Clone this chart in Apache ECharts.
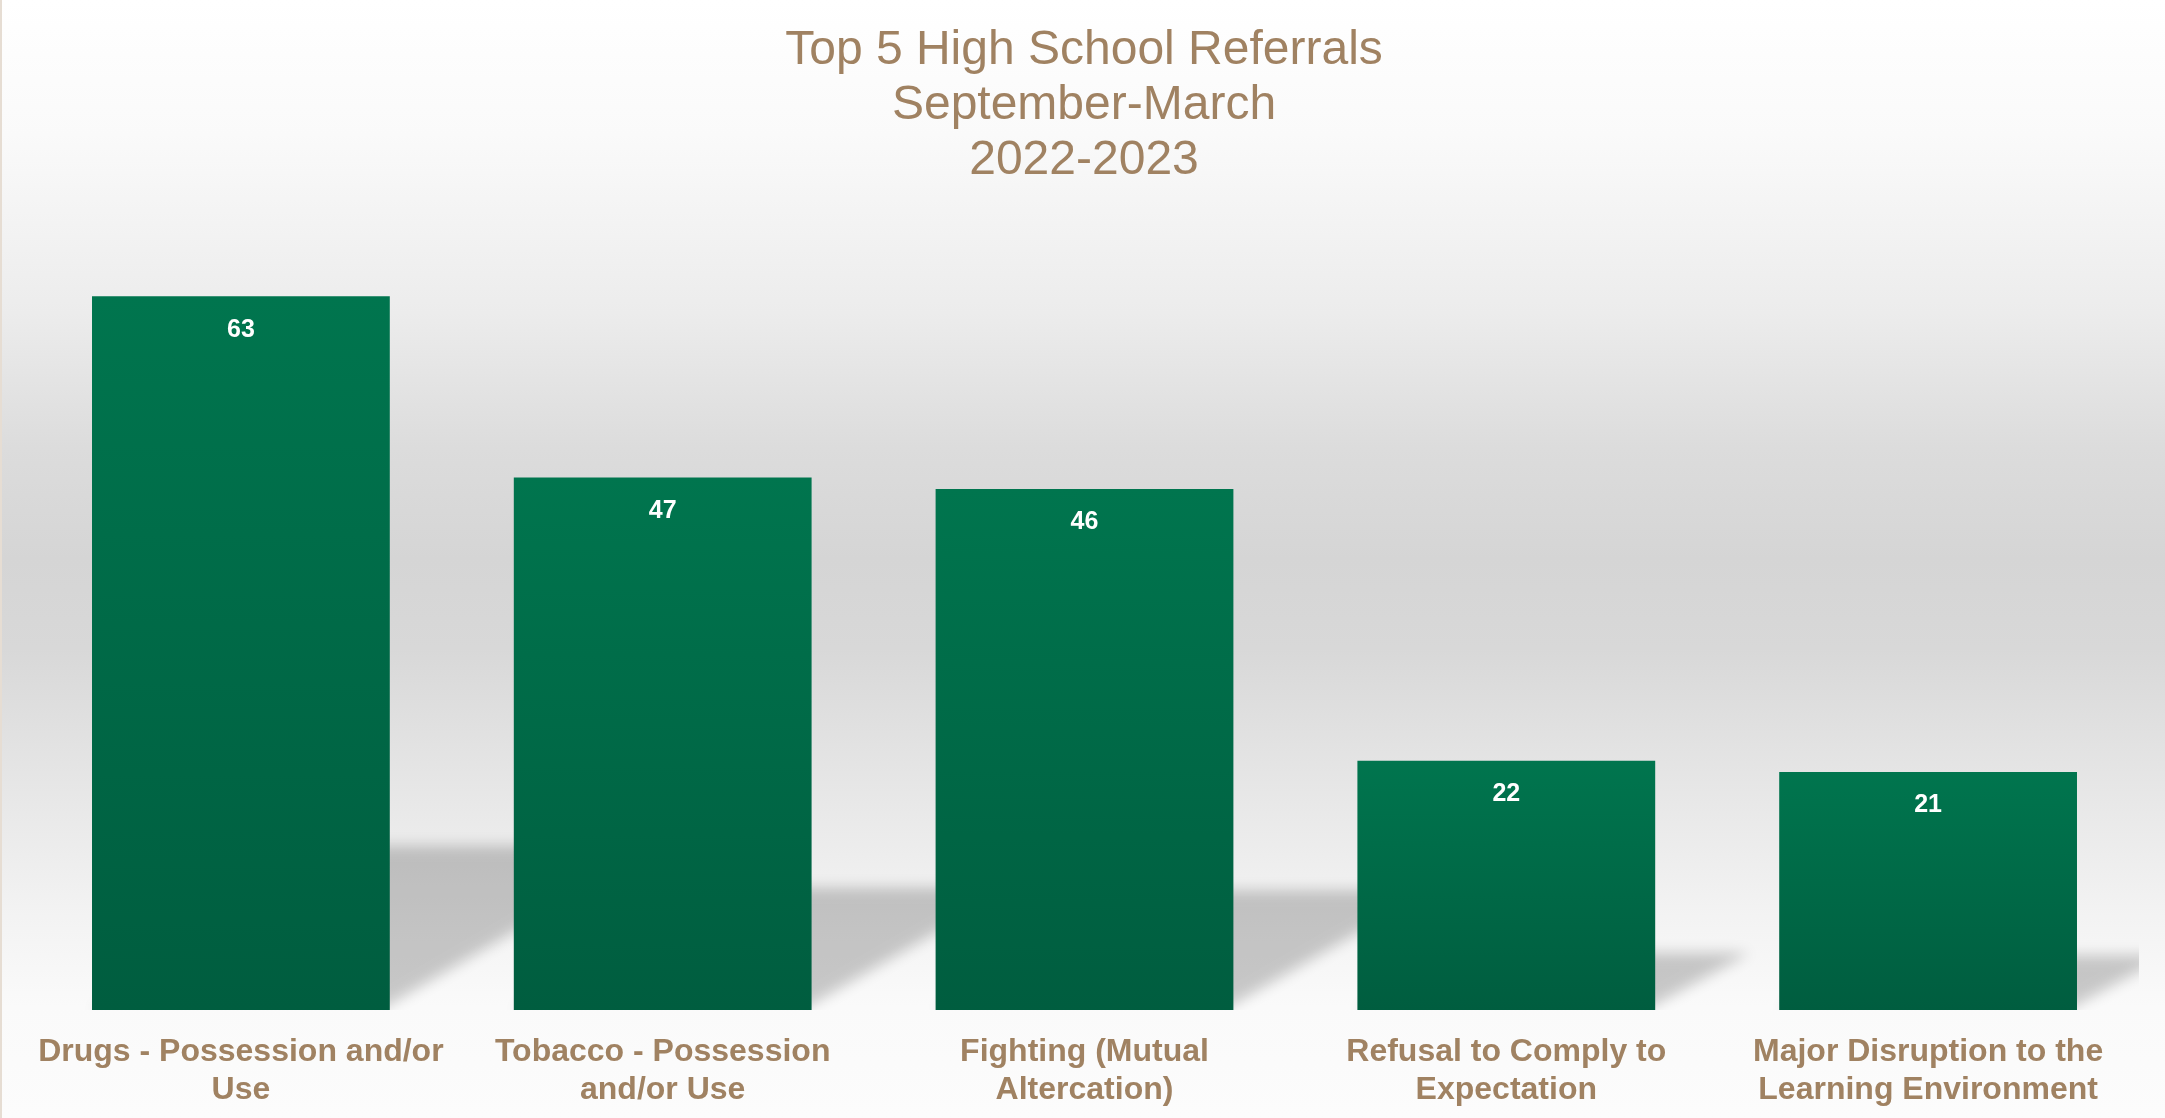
<!DOCTYPE html>
<html>
<head>
<meta charset="utf-8">
<title>Top 5 High School Referrals</title>
<script src="https://cdn.jsdelivr.net/npm/echarts@6/dist/echarts.min.js"></script>
<style>
  html, body { margin: 0; padding: 0; }
  #chart {
    width: 2165px;
    height: 1118px;
    background: linear-gradient(to bottom,
      #ffffff 0%, #fafafa 12%, #ececec 28%, #dcdcdc 40%, #d5d5d5 50%,
      #d8d8d8 58%, #e6e6e6 70%, #f3f3f3 82%, #fafafa 90%, #fcfcfc 100%);
    box-shadow: inset 2px 0 0 #e6ddd3;
  }
</style>
</head>
<body>
<div id="chart"></div>
<script>
// Referral categories (two-line axis labels) and counts, September–March 2022-2023
const categories = [
  'Drugs - Possession and/or\nUse',
  'Tobacco - Possession\nand/or Use',
  'Fighting (Mutual\nAltercation)',
  'Refusal to Comply to\nExpectation',
  'Major Disruption to the\nLearning Environment'
];
const referrals = [63, 47, 46, 22, 21];
const titleLines = ['Top 5 High School Referrals', 'September-March', '2022-2023'];

const TAN = '#a08262';
const BAR_SHARE = 0.706;      // bar width as a share of the category band
const SHADOW_RATIO = 0.23;    // cast shadow height relative to bar height
const SHADOW_SLANT = 1.65;    // horizontal run of the shadow per pixel of height
const OFF = 4000;             // shadow shapes are drawn off-canvas; only their blur is shown

const chart = echarts.init(document.getElementById('chart'), null, { renderer: 'canvas' });

chart.setOption({
  backgroundColor: 'transparent',
  animation: false,
  title: {
    text: titleLines.join('\n'),
    left: 1084,
    top: 23,
    padding: 0,
    textAlign: 'center',
    textStyle: {
      fontFamily: '"Liberation Sans", Arial, sans-serif',
      fontSize: 48,
      fontWeight: 'normal',
      lineHeight: 55,
      color: TAN
    }
  },
  grid: { left: 30, right: 26, top: 217, bottom: 108 },
  xAxis: {
    type: 'category',
    data: categories,
    axisLine: { show: false },
    axisTick: { show: false },
    axisLabel: {
      interval: 0,
      margin: 23,
      fontFamily: '"Liberation Sans", Arial, sans-serif',
      fontSize: 32,
      fontWeight: 'bold',
      lineHeight: 38,
      color: TAN
    }
  },
  yAxis: {
    type: 'value',
    min: 0,
    max: 70,
    show: false,
    splitLine: { show: false }
  },
  series: [
    {
      // soft perspective shadow cast to the right of each bar
      type: 'custom',
      z: 1,
      clip: true,
      silent: true,
      data: referrals.map((v, i) => [i, v]),
      renderItem(params, api) {
        const i = api.value(0);
        const v = api.value(1);
        const base = api.coord([i, 0]);
        const top = api.coord([i, v * SHADOW_RATIO]);
        const w = api.size([1, 0])[0] * BAR_SHARE;
        const h = base[1] - top[1];
        const left = base[0] - w / 2;
        const right = base[0] + w / 2;
        const dx = h * SHADOW_SLANT;
        return {
          type: 'polygon',
          shape: {
            points: [
              [left - OFF, base[1]],
              [right - 10 - OFF, base[1]],
              [right + dx - OFF, top[1]],
              [left + dx - OFF, top[1]]
            ]
          },
          style: {
            fill: '#000',
            shadowBlur: 14,
            shadowColor: 'rgba(0,0,0,0.20)',
            shadowOffsetX: OFF,
            shadowOffsetY: 0
          }
        };
      }
    },
    {
      type: 'bar',
      z: 2,
      data: referrals,
      barWidth: (BAR_SHARE * 100) + '%',
      itemStyle: {
        color: new echarts.graphic.LinearGradient(0, 0, 0, 1, [
          { offset: 0, color: '#00754e' },
          { offset: 1, color: '#005d3f' }
        ])
      },
      label: {
        show: true,
        position: 'insideTop',
        distance: 21,
        color: '#ffffff',
        fontFamily: '"Liberation Sans", Arial, sans-serif',
        fontSize: 25,
        fontWeight: 'bold'
      }
    }
  ]
});
</script>
</body>
</html>
